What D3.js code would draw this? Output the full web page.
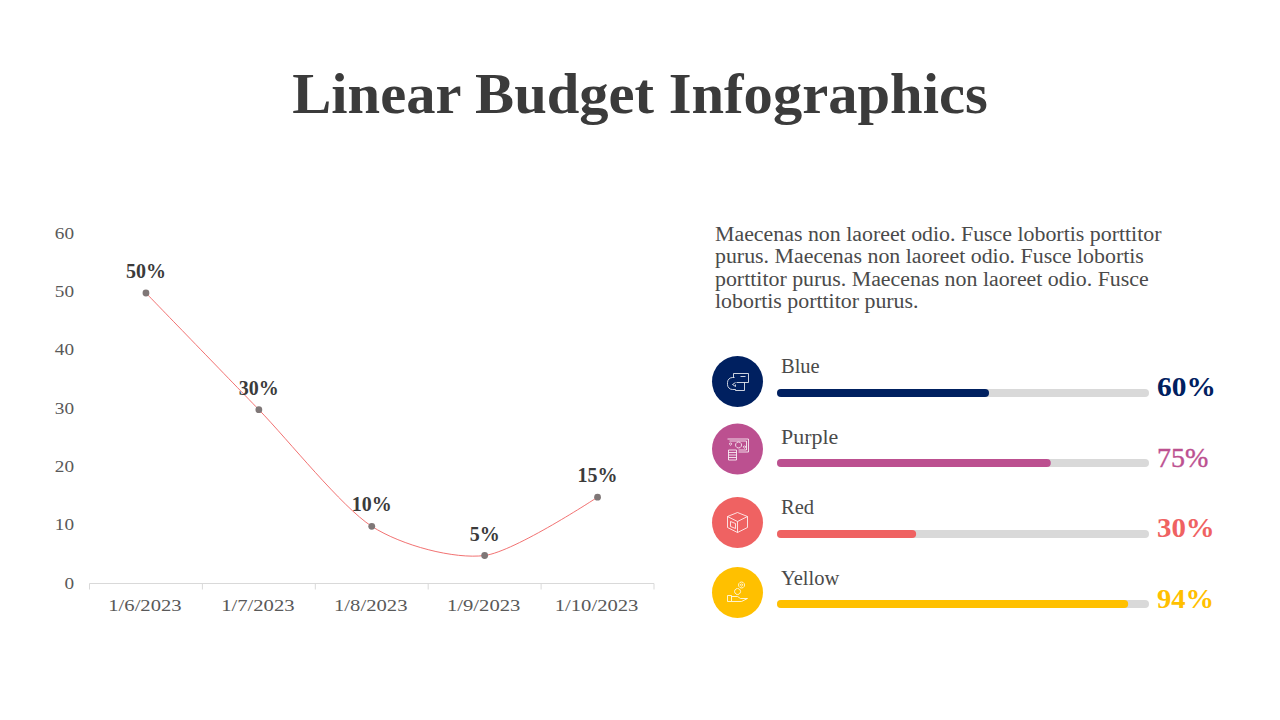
<!DOCTYPE html>
<html>
<head>
<meta charset="utf-8">
<script src="https://cdn.jsdelivr.net/npm/d3@7"></script>
<style>
  html, body { margin: 0; background: #fff; }
  text { font-family: "Liberation Serif", serif; }
</style>
</head>
<body>
<div id="chart"></div>
<script>
// line chart data
var dates = ["1/6/2023", "1/7/2023", "1/8/2023", "1/9/2023", "1/10/2023"];
var budget = [49.8, 29.8, 9.8, 4.8, 14.8];
var budgetLabels = ["50%", "30%", "10%", "5%", "15%"];
var yTicks = [0, 10, 20, 30, 40, 50, 60];

// progress rows
var rowNames = ["Blue", "Purple", "Red", "Yellow"];
var rowFill = [57, 73.6, 37.4, 94.4];
var rowLabels = ["60%", "75%", "30%", "94%"];
var rowColors = ["#002060", "#BC5090", "#EF6262", "#FFC000"];

var paragraph = [
  "Maecenas non laoreet odio. Fusce lobortis porttitor",
  "purus. Maecenas non laoreet odio. Fusce lobortis",
  "porttitor purus. Maecenas non laoreet odio. Fusce",
  "lobortis porttitor purus."
];

var svg = d3.select("#chart").append("svg")
  .attr("width", 1280).attr("height", 720)
  .style("display", "block");

// Lora is not installed, so stretch the serif to the original text widths
function stretch(sel, factor) {
  sel.each(function () {
    var len = this.getComputedTextLength();
    d3.select(this)
      .attr("textLength", len * factor)
      .attr("lengthAdjust", "spacingAndGlyphs");
  });
}

svg.append("text")
  .attr("x", 640).attr("y", 113)
  .attr("text-anchor", "middle")
  .attr("font-size", 58).attr("font-weight", 700)
  .attr("fill", "#3B3B3B")
  .text("Linear Budget Infographics")
  .call(stretch, 1.01);

// the chart
var x = d3.scaleBand().domain(dates).range([89.5, 654]);
var y = d3.scaleLinear().domain([0, 60]).range([583.5, 233.5]);
var plot = svg.append("g");

var xAxis = plot.append("g")
  .attr("transform", "translate(-1," + y(0) + ")")
  .call(d3.axisBottom(x).tickSize(0).tickPadding(15));
xAxis.select(".domain").remove();
xAxis.selectAll("text").attr("font-size", 17.5).attr("fill", "#595959")
  .attr("font-family", "Liberation Serif")
  .call(stretch, 1.18);

plot.append("line")
  .attr("x1", x.range()[0]).attr("x2", x.range()[1])
  .attr("y1", y(0)).attr("y2", y(0))
  .attr("stroke", "#D9D9D9");

// tick marks sit between the categories
plot.selectAll(".sep").data(dates.concat("end")).enter().append("line")
  .attr("x1", (d, i) => x.range()[0] + i * x.step())
  .attr("x2", (d, i) => x.range()[0] + i * x.step())
  .attr("y1", y(0)).attr("y2", y(0) + 6)
  .attr("stroke", "#D9D9D9");

plot.selectAll(".ytick").data(yTicks).enter().append("text")
  .attr("x", 74).attr("y", d => y(d) + 5.2)
  .attr("text-anchor", "end")
  .attr("font-size", 17.5).attr("fill", "#595959")
  .text(d => d)
  .call(stretch, 1.1);

var line = d3.line()
  .x((d, i) => x(dates[i]) + x.bandwidth() / 2)
  .y(d => y(d))
  .curve(d3.curveCardinal.tension(0.2));

plot.append("path")
  .datum(budget)
  .attr("d", line)
  .attr("fill", "none")
  .attr("stroke", "#EF6262")
  .attr("stroke-width", 0.9);

plot.selectAll(".dot").data(budget).enter().append("circle")
  .attr("cx", (d, i) => x(dates[i]) + x.bandwidth() / 2)
  .attr("cy", d => y(d))
  .attr("r", 3.4)
  .attr("fill", "#7F7777");

plot.selectAll(".lab").data(budget).enter().append("text")
  .attr("x", (d, i) => x(dates[i]) + x.bandwidth() / 2)
  .attr("y", d => y(d) - 15)
  .attr("text-anchor", "middle")
  .attr("font-size", 20).attr("font-weight", 700)
  .attr("fill", "#3B3B3B")
  .text((d, i) => budgetLabels[i]);

// text block
svg.selectAll(".para").data(paragraph).enter().append("text")
  .attr("x", 715).attr("y", (d, i) => 241 + i * 22.3)
  .attr("font-size", 20.5).attr("fill", "#4A4A4A")
  .text(d => d)
  .call(stretch, 1.067);

// progress rows
var rowTop = [389, 459, 530, 600];
var circleY = [381.5, 449, 522.5, 592.5];
var nameY = [373, 444, 514, 585];
var pctY = [396, 467, 537, 608];
var nameStretch = [1, 1.07, 1, 1];
var pctStretch = [1.05, 1, 1.03, 1.02];
var w = d3.scaleLinear().domain([0, 100]).range([0, 372]);

var rows = svg.selectAll(".row").data(rowNames).enter().append("g");

rows.append("rect")
  .attr("x", 777).attr("y", (d, i) => rowTop[i])
  .attr("width", w(100)).attr("height", 8).attr("rx", 4)
  .attr("fill", "#D9D9D9");
rows.append("rect")
  .attr("x", 777).attr("y", (d, i) => rowTop[i])
  .attr("width", (d, i) => w(rowFill[i])).attr("height", 8).attr("rx", 4)
  .attr("fill", (d, i) => rowColors[i]);
rows.append("circle")
  .attr("cx", 737.5).attr("cy", (d, i) => circleY[i]).attr("r", 25.5)
  .attr("fill", (d, i) => rowColors[i]);
rows.append("text")
  .attr("x", 781).attr("y", (d, i) => nameY[i])
  .attr("font-size", 20.5).attr("fill", "#4A4A4A")
  .text(d => d)
  .each(function (d, i) { d3.select(this).call(stretch, nameStretch[i]); });
rows.append("text")
  .attr("x", 1157).attr("y", (d, i) => pctY[i])
  .attr("font-size", 28)
  .attr("font-weight", (d, i) => i == 1 ? 400 : 700) // the purple one is lighter in the original
  .attr("stroke", (d, i) => i == 1 ? rowColors[i] : "none")
  .attr("stroke-width", 0.4)
  .attr("fill", (d, i) => rowColors[i])
  .text((d, i) => rowLabels[i])
  .each(function (d, i) { d3.select(this).call(stretch, pctStretch[i]); });

// small white line icons in the circles
var icons = [
  ["M-3-4h-2a5 5 0 0 0-5 5v2a5 5 0 0 0 5 5h3", "M-4-4v-4h15v9h-12", "M-2 1l-3 2l3 2v-2", "M3-5h5", "M-2 8v1h9v-8"],
  ["M-10-10h21v13h-10", "M-8-8h17v9h-8", "M-7-6a1 1 0 1 0 .1 0M7-3a1 1 0 1 0 .1 0", "M1-7a3 3 0 1 0 .1 0",
   "M-9 1h8v10h-8zM-9 3.5h8M-9 6h8M-9 8.5h8"],
  ["M0-10l10 4v11l-10 5l-10-5v-11z", "M-10-6l10 5l10-5M0-1v11", "M-7-1l5 2v5l-5-2z"],
  ["M-10 3v6h4v-6zM-6 4h6l3 2h7l-6 3h-10", "M0-4a3 3 0 1 0 .1 0", "M4-10.5a3 3 0 1 0 .1 0", "M4-8.5a1 1 0 1 0 .1 0"]
];
rows.append("g")
  .attr("transform", (d, i) => "translate(737.5," + circleY[i] + ")")
  .selectAll("path")
  .data((d, i) => icons[i]).enter().append("path")
  .attr("d", d => d)
  .attr("fill", "none").attr("stroke", "#fff").attr("stroke-width", 0.8);
</script>
</body>
</html>
